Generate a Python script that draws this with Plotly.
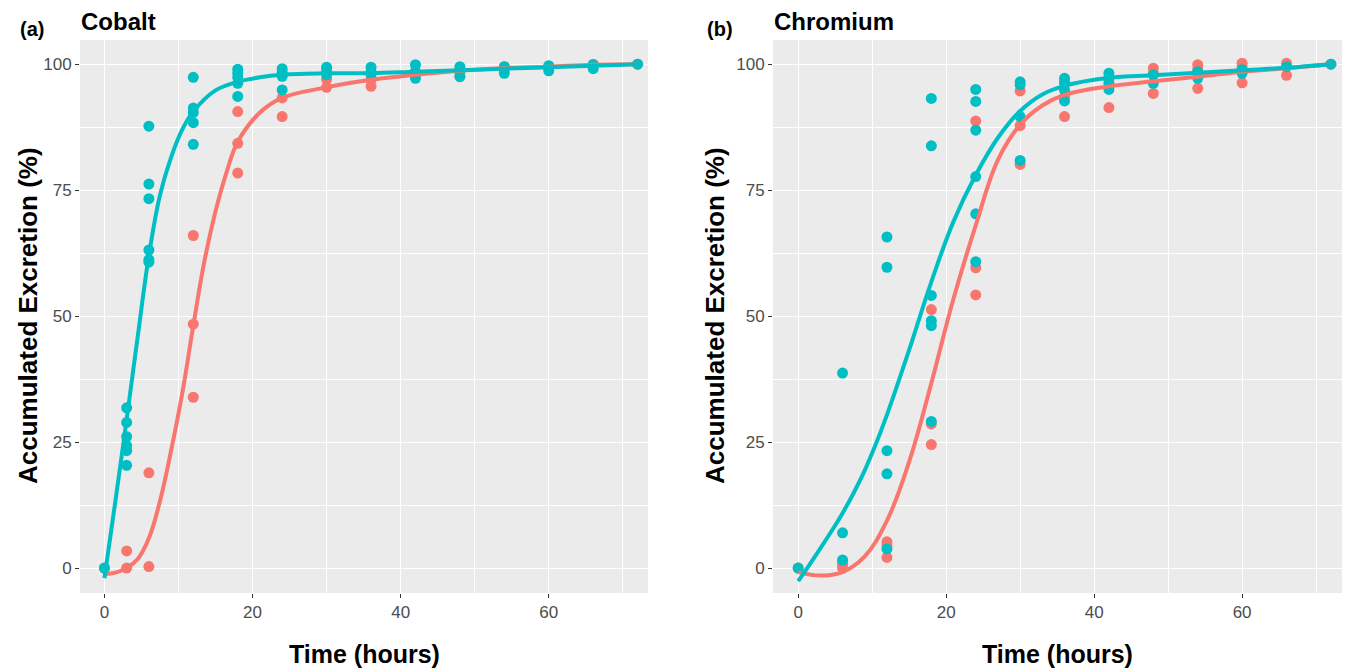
import plotly.graph_objects as go
from plotly.subplots import make_subplots

RED = "#F8766D"
TEAL = "#00BFC4"

# ---------------- data: Cobalt ----------------
co_teal_pts = {
    0: [0],
    3: [31.8, 28.9, 26.1, 24.3, 23.3, 20.4],
    6: [87.7, 76.2, 73.3, 63.1, 61.2, 60.7],
    12: [97.4, 91.3, 90.4, 88.4, 84.1],
    18: [99.0, 98.2, 97.4, 96.2, 93.6],
    24: [99.1, 98.4, 97.6, 94.9],
    30: [99.4, 98.7, 97.9],
    36: [99.4, 98.5, 97.9],
    42: [99.9, 98.5, 97.2],
    48: [99.5, 98.5, 97.6],
    54: [99.5, 98.2],
    60: [99.7, 98.7],
    66: [99.9, 99.1],
    72: [100],
}
co_red_pts = {
    0: [0],
    3: [3.4, 0],
    6: [18.9, 0.3],
    12: [66.0, 48.4, 33.9],
    18: [90.6, 84.3, 78.4],
    24: [93.3, 89.6],
    30: [97.0, 95.4],
    36: [96.9, 95.6],
    42: [97.8, 98.5],
    48: [97.5, 99.0],
    54: [99.0, 99.5],
    60: [99.2, 99.6],
    66: [99.8, 100],
    72: [100],
}
co_teal_curve_t = [0, 1.5, 3, 4.5, 6, 7.5, 9, 10.5, 12, 15, 18, 21, 24, 30, 36, 42, 48, 54, 60, 66, 72]
co_teal_curve_v = [-2, 13.5, 29.5, 46, 62, 74, 81.5, 87, 90.6, 94.8, 96.5, 97.4, 97.9, 98.2, 98.2, 98.5, 98.8, 99.1, 99.4, 99.7, 100]
co_red_curve_t = [0, 1.5, 3, 4.5, 6, 7.5, 9, 10.5, 12, 13.5, 15, 16.5, 18, 21, 24, 30, 36, 42, 48, 54, 60, 66, 72]
co_red_curve_v = [-1.2, -0.9, 0.0, 1.8, 5.9, 13.3, 23.3, 34.6, 48.1, 60.9, 70.8, 78.6, 84.6, 90.4, 93.3, 95.4, 96.9, 97.9, 98.7, 99.2, 99.5, 99.9, 100]

# ---------------- data: Chromium ----------------
cr_teal_pts = {
    0: [0],
    6: [38.7, 7.0, 1.6],
    12: [65.7, 59.7, 23.3, 18.7, 3.8],
    18: [93.2, 83.8, 54.1, 49.1, 48.1, 29.1],
    24: [95.0, 92.6, 86.9, 77.7, 70.3, 60.8],
    30: [96.5, 95.9, 89.6, 80.9],
    36: [97.2, 96.5, 94.9, 92.7],
    42: [98.2, 97.4, 96.2, 95.0],
    48: [97.9, 96.2],
    54: [98.5, 97.2],
    60: [98.9, 98.2],
    66: [99.5],
    72: [100],
}
cr_red_pts = {
    0: [0],
    6: [1.3, 0.6, 0.0],
    12: [5.2, 4.5, 2.1],
    18: [51.3, 28.6, 24.5],
    24: [88.7, 59.6, 54.2],
    30: [94.7, 87.8, 80.1],
    36: [96.2, 93.6, 89.6],
    42: [96.9, 91.4],
    48: [99.2, 98.2, 94.2],
    54: [99.9, 98.9, 95.2],
    60: [100.2, 99.5, 96.3],
    66: [100.2, 97.8],
    72: [100],
}
cr_teal_curve_t = [0, 1.5, 3, 4.5, 6, 7.5, 9, 10.5, 12, 15, 18, 21, 24, 27, 30, 33, 36, 42, 48, 54, 60, 66, 72]
cr_teal_curve_v = [-2.6, 0.6, 3.9, 7.3, 10.9, 14.9, 19.4, 24.6, 30.4, 43.3, 56.8, 68.8, 78.0, 85.4, 90.7, 94.0, 95.7, 97.3, 97.8, 98.3, 98.8, 99.3, 100]
cr_red_curve_t = [0, 3, 6, 9, 12, 15, 18, 21, 24, 27, 30, 33, 36, 42, 48, 54, 60, 66, 72]
cr_red_curve_v = [-0.8, -1.5, -0.8, 2.3, 9.4, 21.1, 36.7, 53.5, 68.0, 81.0, 88.0, 91.8, 93.9, 95.6, 96.6, 97.5, 98.5, 99.2, 100]

x_ticks = [0, 20, 40, 60]
y_ticks = [0, 25, 50, 75, 100]
panel_letters = ["(a)", "(b)"]
panel_titles = ["Cobalt", "Chromium"]
x_title = "Time (hours)"
y_title = "Accumulated Excretion (%)"


def flatten(d):
    xs, ys = [], []
    for t, vals in d.items():
        for v in vals:
            xs.append(t)
            ys.append(v)
    return xs, ys


W, H = 1346, 669
ML, MR, MT, MB = 80, 4, 40, 76
PW = W - ML - MR
PH = H - MT - MB

fig = make_subplots(rows=1, cols=2, horizontal_spacing=0.1)
dom_a = [0, (648 - ML) / PW]
dom_b = [(773 - ML) / PW, 1]

panels = [
    (co_red_pts, co_teal_pts, co_red_curve_t, co_red_curve_v, co_teal_curve_t, co_teal_curve_v),
    (cr_red_pts, cr_teal_pts, cr_red_curve_t, cr_red_curve_v, cr_teal_curve_t, cr_teal_curve_v),
]
for i, (rp, tp, rct, rcv, tct, tcv) in enumerate(panels):
    col = i + 1
    x, y = flatten(rp)
    fig.add_trace(go.Scatter(x=x, y=y, mode="markers", marker=dict(color=RED, size=11),
                             showlegend=False), row=1, col=col)
    x, y = flatten(tp)
    fig.add_trace(go.Scatter(x=x, y=y, mode="markers", marker=dict(color=TEAL, size=11),
                             showlegend=False), row=1, col=col)
    fig.add_trace(go.Scatter(x=rct, y=rcv, mode="lines", line=dict(color=RED, width=4, shape="spline", smoothing=1.1),
                             showlegend=False), row=1, col=col)
    fig.add_trace(go.Scatter(x=tct, y=tcv, mode="lines", line=dict(color=TEAL, width=4, shape="spline", smoothing=1.1),
                             showlegend=False), row=1, col=col)

axis_common = dict(
    showgrid=True, gridcolor="white", gridwidth=1.2, zeroline=False,
    ticks="outside", ticklen=4, tickcolor="#333333", tickwidth=1,
    tickfont=dict(family="Liberation Sans, Arial, sans-serif", size=17, color="#4D4D4D"),
    showline=False,
)
fig.update_xaxes(**axis_common, tickvals=x_ticks, range=[-3.3, 73.4],
                 minor=dict(showgrid=True, gridcolor="white", gridwidth=0.6, tickvals=[10, 30, 50, 70], ticks=""))
fig.update_yaxes(**axis_common, tickvals=y_ticks, range=[-4.95, 104.8],
                 minor=dict(showgrid=True, gridcolor="white", gridwidth=0.6, tickvals=[12.5, 37.5, 62.5, 87.5], ticks=""))
fig.update_layout(xaxis=dict(domain=dom_a), xaxis2=dict(domain=dom_b, range=[-3.4, 73.5]))


def px(xp):
    return (xp - ML) / PW


def py(yp):
    return (H - MB - yp) / PH


bold = "Liberation Sans, Arial, sans-serif"
anns = []
for i, (lx, tx, ytx, cx) in enumerate([(32, 80, 28, 364), (720, 773, 715, 1057)]):
    anns.append(dict(x=px(lx), y=py(29), xref="paper", yref="paper", text="<b>%s</b>" % panel_letters[i],
                     showarrow=False, font=dict(family=bold, size=20, color="black"), xanchor="center", yanchor="middle"))
    anns.append(dict(x=px(tx - 1), y=py(21), xref="paper", yref="paper", text="<b>%s</b>" % panel_titles[i],
                     showarrow=False, font=dict(family=bold, size=24, color="black"), xanchor="left", yanchor="middle"))
    anns.append(dict(x=px(ytx), y=py(316), xref="paper", yref="paper", text="<b>%s</b>" % y_title, textangle=-90,
                     showarrow=False, font=dict(family=bold, size=26, color="black"), xanchor="center", yanchor="middle"))
    anns.append(dict(x=px(cx), y=py(654), xref="paper", yref="paper", text="<b>%s</b>" % x_title,
                     showarrow=False, font=dict(family=bold, size=25, color="black"), xanchor="center", yanchor="middle"))

fig.update_layout(
    width=W, height=H,
    margin=dict(l=ML, r=MR, t=MT, b=MB),
    paper_bgcolor="white", plot_bgcolor="#EBEBEB",
    annotations=anns,
    showlegend=False,
)

fig.write_html("out.html")
